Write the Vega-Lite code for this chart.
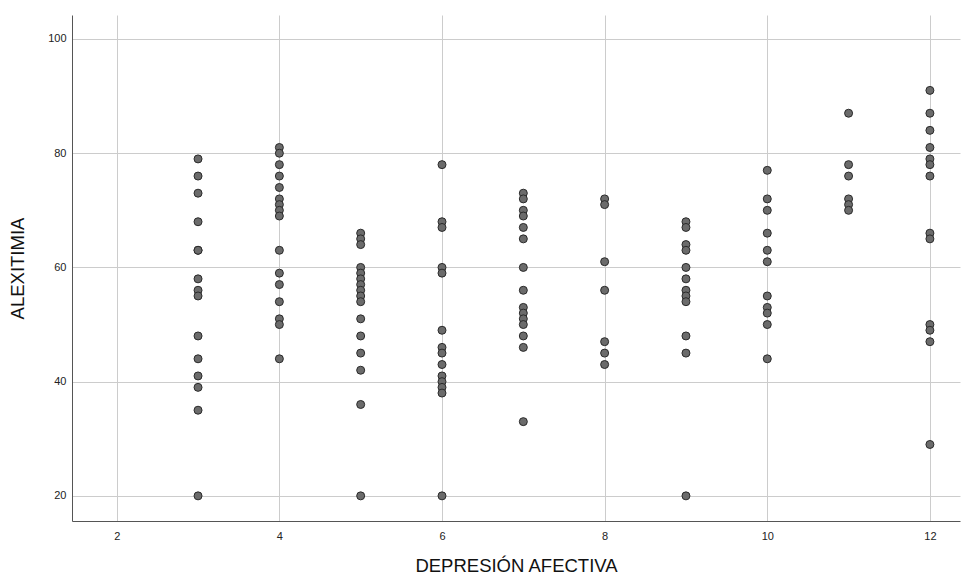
{
  "$schema": "https://vega.github.io/schema/vega-lite/v6.json",
  "width": 888,
  "height": 506,
  "autosize": {"type": "none"},
  "padding": {"left": 72, "top": 15, "right": 1, "bottom": 57},
  "background": "white",
  "config": {
    "view": {"stroke": null},
    "font": "Liberation Sans"
  },
  "data": {
    "values": [
      {"dep": 3, "alex": 79}, {"dep": 3, "alex": 76}, {"dep": 3, "alex": 73}, {"dep": 3, "alex": 68}, {"dep": 3, "alex": 63}, {"dep": 3, "alex": 63}, {"dep": 3, "alex": 58}, {"dep": 3, "alex": 56}, {"dep": 3, "alex": 55}, {"dep": 3, "alex": 48}, {"dep": 3, "alex": 44}, {"dep": 3, "alex": 41}, {"dep": 3, "alex": 39}, {"dep": 3, "alex": 35}, {"dep": 3, "alex": 20},
      {"dep": 4, "alex": 81}, {"dep": 4, "alex": 80}, {"dep": 4, "alex": 78}, {"dep": 4, "alex": 76}, {"dep": 4, "alex": 74}, {"dep": 4, "alex": 72}, {"dep": 4, "alex": 71}, {"dep": 4, "alex": 70}, {"dep": 4, "alex": 69}, {"dep": 4, "alex": 63}, {"dep": 4, "alex": 59}, {"dep": 4, "alex": 57}, {"dep": 4, "alex": 54}, {"dep": 4, "alex": 51}, {"dep": 4, "alex": 50}, {"dep": 4, "alex": 44},
      {"dep": 5, "alex": 66}, {"dep": 5, "alex": 65}, {"dep": 5, "alex": 64}, {"dep": 5, "alex": 60}, {"dep": 5, "alex": 59}, {"dep": 5, "alex": 58}, {"dep": 5, "alex": 57}, {"dep": 5, "alex": 56}, {"dep": 5, "alex": 55}, {"dep": 5, "alex": 54}, {"dep": 5, "alex": 51}, {"dep": 5, "alex": 48}, {"dep": 5, "alex": 45}, {"dep": 5, "alex": 42}, {"dep": 5, "alex": 36}, {"dep": 5, "alex": 20},
      {"dep": 6, "alex": 78}, {"dep": 6, "alex": 68}, {"dep": 6, "alex": 67}, {"dep": 6, "alex": 60}, {"dep": 6, "alex": 59}, {"dep": 6, "alex": 49}, {"dep": 6, "alex": 46}, {"dep": 6, "alex": 45}, {"dep": 6, "alex": 43}, {"dep": 6, "alex": 41}, {"dep": 6, "alex": 40}, {"dep": 6, "alex": 39}, {"dep": 6, "alex": 38}, {"dep": 6, "alex": 20},
      {"dep": 7, "alex": 73}, {"dep": 7, "alex": 72}, {"dep": 7, "alex": 70}, {"dep": 7, "alex": 69}, {"dep": 7, "alex": 67}, {"dep": 7, "alex": 65}, {"dep": 7, "alex": 60}, {"dep": 7, "alex": 56}, {"dep": 7, "alex": 53}, {"dep": 7, "alex": 52}, {"dep": 7, "alex": 51}, {"dep": 7, "alex": 50}, {"dep": 7, "alex": 48}, {"dep": 7, "alex": 46}, {"dep": 7, "alex": 33},
      {"dep": 8, "alex": 72}, {"dep": 8, "alex": 71}, {"dep": 8, "alex": 61}, {"dep": 8, "alex": 56}, {"dep": 8, "alex": 47}, {"dep": 8, "alex": 45}, {"dep": 8, "alex": 43},
      {"dep": 9, "alex": 68}, {"dep": 9, "alex": 67}, {"dep": 9, "alex": 64}, {"dep": 9, "alex": 63}, {"dep": 9, "alex": 60}, {"dep": 9, "alex": 58}, {"dep": 9, "alex": 56}, {"dep": 9, "alex": 55}, {"dep": 9, "alex": 54}, {"dep": 9, "alex": 48}, {"dep": 9, "alex": 45}, {"dep": 9, "alex": 20},
      {"dep": 10, "alex": 77}, {"dep": 10, "alex": 72}, {"dep": 10, "alex": 70}, {"dep": 10, "alex": 66}, {"dep": 10, "alex": 63}, {"dep": 10, "alex": 61}, {"dep": 10, "alex": 55}, {"dep": 10, "alex": 53}, {"dep": 10, "alex": 52}, {"dep": 10, "alex": 50}, {"dep": 10, "alex": 44},
      {"dep": 11, "alex": 87}, {"dep": 11, "alex": 78}, {"dep": 11, "alex": 76}, {"dep": 11, "alex": 72}, {"dep": 11, "alex": 71}, {"dep": 11, "alex": 70},
      {"dep": 12, "alex": 91}, {"dep": 12, "alex": 87}, {"dep": 12, "alex": 84}, {"dep": 12, "alex": 81}, {"dep": 12, "alex": 79}, {"dep": 12, "alex": 78}, {"dep": 12, "alex": 76}, {"dep": 12, "alex": 66}, {"dep": 12, "alex": 65}, {"dep": 12, "alex": 50}, {"dep": 12, "alex": 49}, {"dep": 12, "alex": 47}, {"dep": 12, "alex": 29}
    ]
  },
  "mark": {"type": "point", "filled": true, "shape": "circle", "size": 64, "fill": "#6b6b6b", "stroke": "#2a2a2a", "strokeWidth": 1, "opacity": 1, "fillOpacity": 1},
  "encoding": {
    "x": {
      "field": "dep",
      "type": "quantitative",
      "title": "DEPRESIÓN AFECTIVA",
      "scale": {"domain": [1.45, 12.37], "nice": false, "zero": false},
      "axis": {
        "values": [2, 4, 6, 8, 10, 12],
        "grid": true, "gridColor": "#cccccc", "gridWidth": 1,
        "ticks": false, "domainColor": "#555555", "domainWidth": 1,
        "labelFont": "Liberation Sans", "labelFontSize": 11, "labelColor": "#222222", "labelPadding": 9,
        "titleFont": "Liberation Sans", "titleFontSize": 18.5, "titleFontWeight": "normal", "titleColor": "#111111", "titlePadding": 15
      }
    },
    "y": {
      "field": "alex",
      "type": "quantitative",
      "title": "ALEXITIMIA",
      "scale": {"domain": [15.6, 104.2], "nice": false, "zero": false},
      "axis": {
        "values": [20, 40, 60, 80, 100],
        "grid": true, "gridColor": "#cccccc", "gridWidth": 1,
        "ticks": false, "domainColor": "#555555", "domainWidth": 1,
        "labelFont": "Liberation Sans", "labelFontSize": 11, "labelColor": "#222222", "labelPadding": 6,
        "titleFont": "Liberation Sans", "titleFontSize": 18.5, "titleFontWeight": "normal", "titleColor": "#111111", "titlePadding": 20
      }
    }
  }
}
